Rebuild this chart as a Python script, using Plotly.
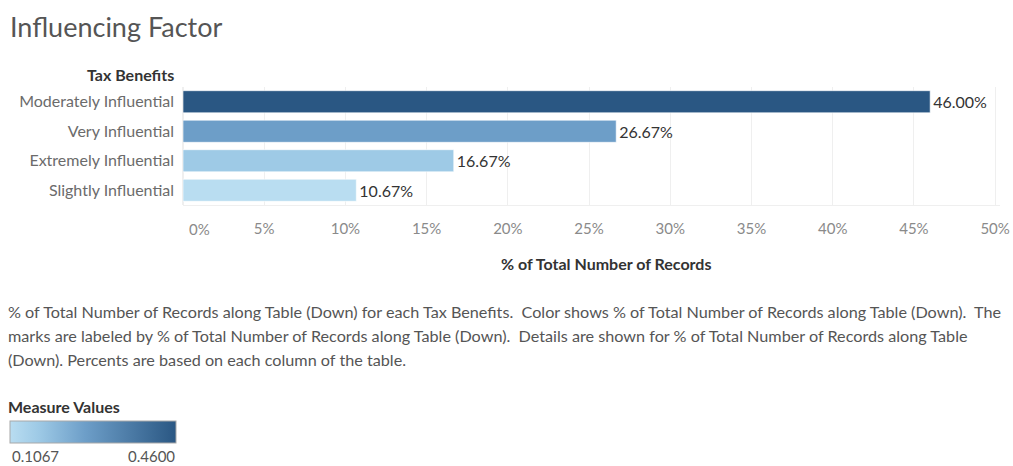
import plotly.graph_objects as go

# Data
categories = ["Moderately Influential", "Very Influential", "Extremely Influential", "Slightly Influential"]
shares = [46.00, 26.67, 16.67, 10.67]          # % of total number of records
tick_values = [0, 5, 10, 15, 20, 25, 30, 35, 40, 45, 50]
tick_labels = ["0%", "5%", "10%", "15%", "20%", "25%", "30%", "35%", "40%", "45%", "50%"]

description = [
    "% of Total Number of Records along Table (Down) for each Tax Benefits.  Color shows % of Total Number of Records along Table (Down).  The",
    "marks are labeled by % of Total Number of Records along Table (Down).  Details are shown for % of Total Number of Records along Table",
    "(Down). Percents are based on each column of the table.",
]

W, H = 1013, 466
ML, MR, MT, MB = 183, 13, 87, 261
PW, PH = W - ML - MR, H - MT - MB

FONT = "Lato"
GREY = "#6b6b6b"
DARK = "#333333"
TICK = "#8a8a8a"

vmin, vmax = min(shares) / 100, max(shares) / 100
colorscale = [
    [0.0, "#b9ddf1"],
    [0.17, "#9ecae6"],
    [0.453, "#6d9ec8"],
    [1.0, "#2a5783"],
]


def px(x):
    return (x - ML) / PW


def py(y):
    return (H - MB - y) / PH


fig = go.Figure(
    go.Bar(
        x=shares,
        y=categories,
        orientation="h",
        marker=dict(
            color=[s / 100 for s in shares],
            colorscale=colorscale,
            cmin=vmin,
            cmax=vmax,
            line=dict(color="rgba(255,255,255,0.6)", width=1),
            colorbar=dict(
                orientation="h",
                x=px(10), xanchor="left", xpad=0,
                y=py(421), yanchor="top", ypad=0,
                len=166, lenmode="pixels",
                thickness=22,
                outlinecolor="#a8a8a8", outlinewidth=1,
                showticklabels=False, ticks="",
            ),
        ),
        text=[f"{s:.2f}%" for s in shares],
        textposition="outside",
        textfont=dict(family=FONT, size=16, color=DARK),
        cliponaxis=False,
        hoverinfo="skip",
    )
)

annotations = [
    dict(text="Influencing Factor", x=px(8), y=py(26), xanchor="left", yanchor="middle",
         font=dict(family=FONT, size=27, color="#555555")),
    dict(text="<b>Tax Benefits</b>", x=px(176), y=py(74), xanchor="right", yanchor="middle",
         font=dict(family=FONT, size=16, color=DARK)),
    dict(text="<b>% of Total Number of Records</b>", x=px(606), y=py(263), xanchor="center", yanchor="middle",
         font=dict(family=FONT, size=16, color=DARK)),
    dict(text="<b>Measure Values</b>", x=px(6), y=py(406), xanchor="left", yanchor="middle",
         font=dict(family=FONT, size=16, color=DARK)),
    dict(text=f"{vmin:.4f}", x=px(10), y=py(456), xanchor="left", yanchor="middle",
         font=dict(family=FONT, size=15, color="#555555")),
    dict(text=f"{vmax:.4f}", x=px(177), y=py(456), xanchor="right", yanchor="middle",
         font=dict(family=FONT, size=15, color="#555555")),
    # first tick label sits just right of the axis start
    dict(text=tick_labels[0], x=px(187), y=py(229), xanchor="left", yanchor="middle",
         font=dict(family=FONT, size=15, color=TICK)),
]
for i, line in enumerate(description):
    annotations.append(dict(text=line, x=px(6), y=py(311 + 24.3 * i), xanchor="left", yanchor="middle",
                            font=dict(family=FONT, size=16.2, color="#555555")))
for a in annotations:
    a.update(xref="paper", yref="paper", showarrow=False)

fig.update_layout(
    width=W, height=H,
    margin=dict(l=ML, r=MR, t=MT, b=MB, pad=0, autoexpand=False),
    paper_bgcolor="white", plot_bgcolor="white",
    showlegend=False,
    bargap=0.25,
    annotations=annotations,
    xaxis=dict(
        range=[0, 50.3],
        tickvals=tick_values, ticktext=[""] + tick_labels[1:],
        tickfont=dict(family=FONT, size=15, color=TICK),
        ticks="", ticklabelstandoff=10,
        showgrid=True, gridcolor="#efefef", gridwidth=1,
        zeroline=True, zerolinecolor="#efefef",
        showline=True, linecolor="#efefef",
        fixedrange=True,
    ),
    yaxis=dict(
        categoryorder="array", categoryarray=categories,
        autorange="reversed",
        tickfont=dict(family=FONT, size=16, color=GREY),
        ticks="", ticklabelstandoff=8,
        showgrid=False, zeroline=False,
        fixedrange=True,
    ),
)

fig.write_html("out.html")
